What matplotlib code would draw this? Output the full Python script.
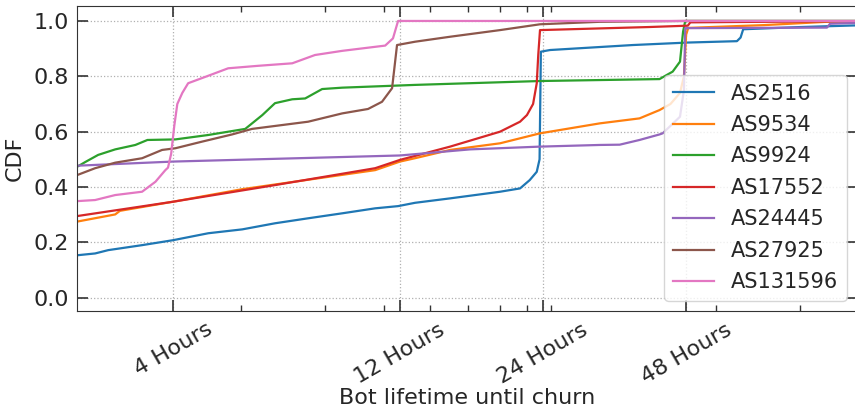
import matplotlib
matplotlib.use("Agg")
import matplotlib.pyplot as plt
from matplotlib.ticker import NullFormatter

# lifetime in hours, CDF value
as2516_h = [2.4, 2.74, 2.92, 3.44, 4.0, 4.74, 5.59, 6.55, 7.69, 9.07, 10.64, 11.89, 12.91, 15.3,
            19.49, 21.47, 22.5, 23.28, 23.6, 23.75, 24.83, 37.06, 48.4, 61.4, 62.5, 63.3, 83.4, 120]
as2516_y = [0.150, 0.160, 0.172, 0.190, 0.208, 0.233, 0.247, 0.269, 0.287, 0.305, 0.323, 0.331, 0.343, 0.359,
            0.383, 0.395, 0.425, 0.455, 0.50, 0.889, 0.895, 0.913, 0.922, 0.927, 0.94, 0.970, 0.978, 0.986]

as9534_h = [2.4, 2.51, 3.02, 3.09, 4.0, 5.58, 10.64, 12.0, 12.9, 15.3, 19.49, 23.65, 31.6, 38.3,
            42.2, 44.5, 46.6, 47.5, 48.0, 48.5, 70.0, 95.0, 120]
as9534_y = [0.272, 0.275, 0.301, 0.314, 0.347, 0.392, 0.461, 0.492, 0.504, 0.534, 0.558, 0.594, 0.630, 0.648,
            0.678, 0.700, 0.740, 0.800, 0.950, 0.975, 0.985, 0.997, 1.0]

as9924_h = [2.4, 2.51, 2.61, 2.78, 3.02, 3.33, 3.53, 4.04, 4.74, 5.67, 6.16, 6.55, 7.12, 7.58,
            8.23, 9.07, 12.91, 23.65, 42.2, 44.98, 46.6, 47.3, 47.8, 120]
as9924_y = [0.470, 0.473, 0.490, 0.516, 0.536, 0.552, 0.570, 0.572, 0.588, 0.610, 0.660, 0.703, 0.717, 0.720,
            0.754, 0.759, 0.769, 0.783, 0.790, 0.817, 0.853, 0.961, 1.0, 1.0]

as17552_h = [2.4, 2.51, 4.0, 6.55, 10.64, 12.0, 15.3, 19.49, 21.47, 22.2, 22.87, 23.28, 23.45, 23.65,
             30.0, 40.0, 48.4, 49.0, 120]
as17552_y = [0.292, 0.295, 0.347, 0.407, 0.468, 0.498, 0.546, 0.600, 0.636, 0.660, 0.700, 0.775, 0.877, 0.967,
             0.972, 0.978, 0.983, 0.995, 1.0]

as24445_h = [2.4, 2.51, 4.0, 12.0, 16.85, 23.65, 31.6, 34.8, 38.3, 42.2, 42.85, 46.6, 47.5, 47.8,
             95.0, 96.4, 120]
as24445_y = [0.476, 0.477, 0.492, 0.514, 0.536, 0.546, 0.552, 0.553, 0.570, 0.590, 0.594, 0.654, 0.750, 0.974,
             0.976, 0.990, 0.995]

as27925_h = [2.4, 2.51, 2.74, 3.02, 3.44, 3.79, 4.04, 4.60, 5.32, 5.86, 7.69, 9.07, 10.28, 11.0,
             11.55, 11.83, 12.91, 15.3, 19.49, 23.65, 31.6, 48.0, 120]
as27925_y = [0.440, 0.443, 0.468, 0.488, 0.504, 0.534, 0.540, 0.564, 0.590, 0.610, 0.636, 0.666, 0.682, 0.708,
             0.757, 0.913, 0.925, 0.943, 0.967, 0.988, 0.997, 1.0, 1.0]

as131596_h = [2.4, 2.51, 2.74, 3.02, 3.44, 3.67, 3.85, 3.9, 3.96, 4.02, 4.08, 4.18, 4.3, 4.74,
              5.22, 6.04, 7.12, 7.95, 9.07, 11.17, 11.6, 11.89, 120]
as131596_y = [0.349, 0.349, 0.353, 0.371, 0.383, 0.419, 0.461, 0.470, 0.520, 0.620, 0.700, 0.740, 0.775, 0.802,
              0.829, 0.838, 0.847, 0.877, 0.892, 0.911, 0.937, 1.0, 1.0]

series = [("AS2516", as2516_h, as2516_y), ("AS9534", as9534_h, as9534_y),
          ("AS9924", as9924_h, as9924_y), ("AS17552", as17552_h, as17552_y),
          ("AS24445", as24445_h, as24445_y), ("AS27925", as27925_h, as27925_y),
          ("AS131596", as131596_h, as131596_y)]

tick_hours = [4, 12, 24, 48]
tick_labels = ["4 Hours", "12 Hours", "24 Hours", "48 Hours"]

TXT = "#262626"

fig = plt.figure(figsize=(8.55, 4.12), dpi=100)
ax = fig.add_axes([0.0901, 0.2451, 0.9123, 0.7403])

for name, hrs, cdf in series:
    ax.plot([h * 3600 for h in hrs], cdf, lw=1.6, label=name)

ax.set_xscale("log")
ax.set_xlim(9036, 395600)
ax.set_ylim(-0.048, 1.054)
ax.set_xticks([h * 3600 for h in tick_hours])
ax.set_xticklabels(tick_labels, rotation=30, ha="center")
ax.xaxis.set_minor_formatter(NullFormatter())
ax.set_yticks([0.0, 0.2, 0.4, 0.6, 0.8, 1.0])

ax.tick_params(which="both", direction="in", top=True, right=True, colors="#333333", labelcolor=TXT,
               labelsize=16, pad=6)
ax.tick_params(which="major", length=8, width=1.2)
ax.tick_params(which="minor", length=4, width=1)
for sp in ax.spines.values():
    sp.set_color("#333333")

ax.grid(True, which="major", linestyle=":", color="#b0b0b0", linewidth=0.9)

ax.set_xlabel("Bot lifetime until churn", fontsize=16, color=TXT, labelpad=1)
ax.set_ylabel("CDF", fontsize=16, color=TXT, labelpad=6)

leg = ax.legend(loc="lower right", fontsize=15, labelspacing=0.55)
for t in leg.get_texts():
    t.set_color(TXT)

fig.savefig("out.png", dpi=100)
